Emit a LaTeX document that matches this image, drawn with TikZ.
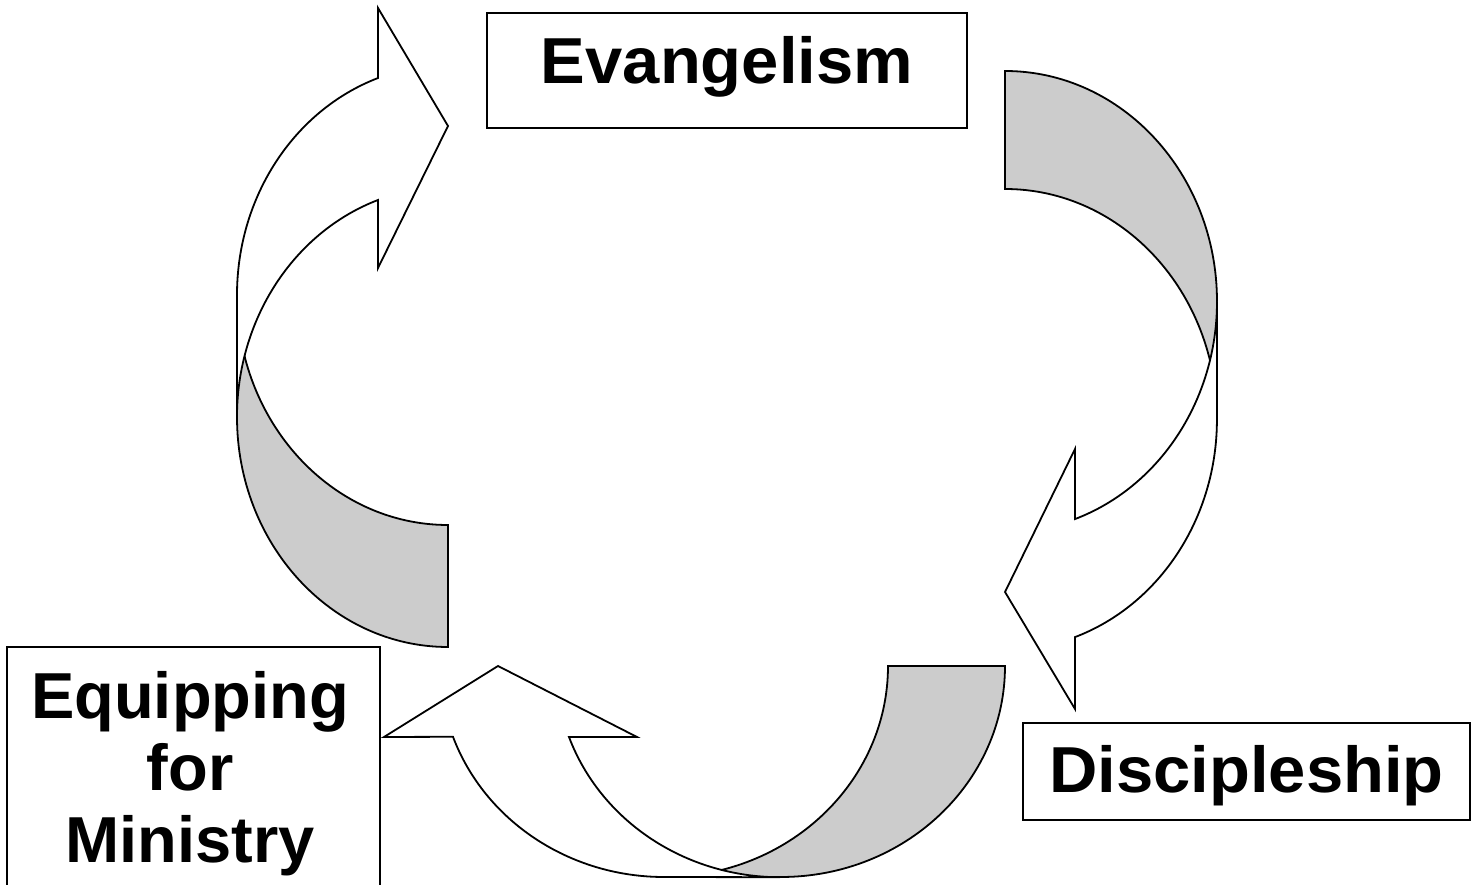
\documentclass[tikz,border=0pt]{standalone}
\usepackage{fontspec}
\usepackage{graphicx}
\setmainfont{Liberation Sans}
\definecolor{shadegray}{HTML}{CCCCCC}
\tikzset{
  backpart/.style={draw=black, fill=shadegray, line width=1.8pt},
  frontpart/.style={draw=black, fill=white, line width=1.8pt},
  box/.style={draw=black, fill=white, line width=1.8pt, inner sep=0pt, font=\fontsize{65}{72}\selectfont\bfseries},
  boxtext/.style={inner sep=0pt, font=\fontsize{65}{72}\selectfont\bfseries}
}
\begin{document}
\begin{tikzpicture}[x=1pt,y=1pt]
\useasboundingbox (0,0) rectangle (1476,884);
\clip (0,0) rectangle (1476,884);
\fill[white] (0,0) rectangle (1476,884);

% left curved arrow (pointing right, to Evangelism)
\draw[backpart] (448,237) arc[start angle=270,end angle=180,x radius=211pt,y radius=230pt]
  -- (237,589) arc[start angle=180,end angle=270,x radius=211pt,y radius=230pt] -- cycle;
\draw[frontpart] (237,589) arc[start angle=180,end angle=109.37,x radius=211pt,y radius=230pt]
  -- (378,876) -- (448,758) -- (378,616) -- (378,684)
  arc[start angle=109.37,end angle=180,x radius=211pt,y radius=230pt] -- cycle;

% right curved arrow (pointing left, to Discipleship)
\draw[backpart] (1005,813) arc[start angle=90,end angle=0,x radius=212pt,y radius=230.5pt]
  -- (1217,464.5) arc[start angle=0,end angle=90,x radius=212pt,y radius=230.5pt] -- cycle;
\draw[frontpart] (1217,582.5) arc[start angle=0,end angle=-70.7,x radius=212pt,y radius=230.5pt]
  -- (1075,435) -- (1005,292) -- (1075,175) -- (1075,246.9)
  arc[start angle=-70.7,end angle=0,x radius=212pt,y radius=230.5pt] -- cycle;

% bottom curved arrow (pointing up)
\draw[backpart] (1005,218) arc[start angle=0,end angle=-90,x radius=224pt,y radius=211pt]
  -- (664,7) arc[start angle=-90,end angle=0,x radius=224pt,y radius=211pt] -- cycle;
\draw[frontpart] (664,7) arc[start angle=-90,end angle=-160.4,x radius=224pt,y radius=211pt]
  -- (384,147) -- (498,218) -- (637,147) -- (569,147)
  arc[start angle=-160.4,end angle=-90,x radius=224pt,y radius=211pt] -- cycle;

% boxes
\node[box, minimum width=480pt, minimum height=115pt, text height=42pt, text depth=15pt] (evang) at (727,813.5) {\scalebox{1.03}[1]{Evangelism}};
\node[box, minimum width=447pt, minimum height=97pt, text height=50pt, text depth=7pt] (disc) at (1246.5,112.5) {\scalebox{1.03}[1]{Discipleship}};
\node[box, minimum width=373pt, minimum height=260pt] (equip) at (193.5,107) {};
\node[boxtext, align=center, anchor=north] (equiptext) at (190,213) {Equipping\\for\\Ministry};
\end{tikzpicture}
\end{document}
